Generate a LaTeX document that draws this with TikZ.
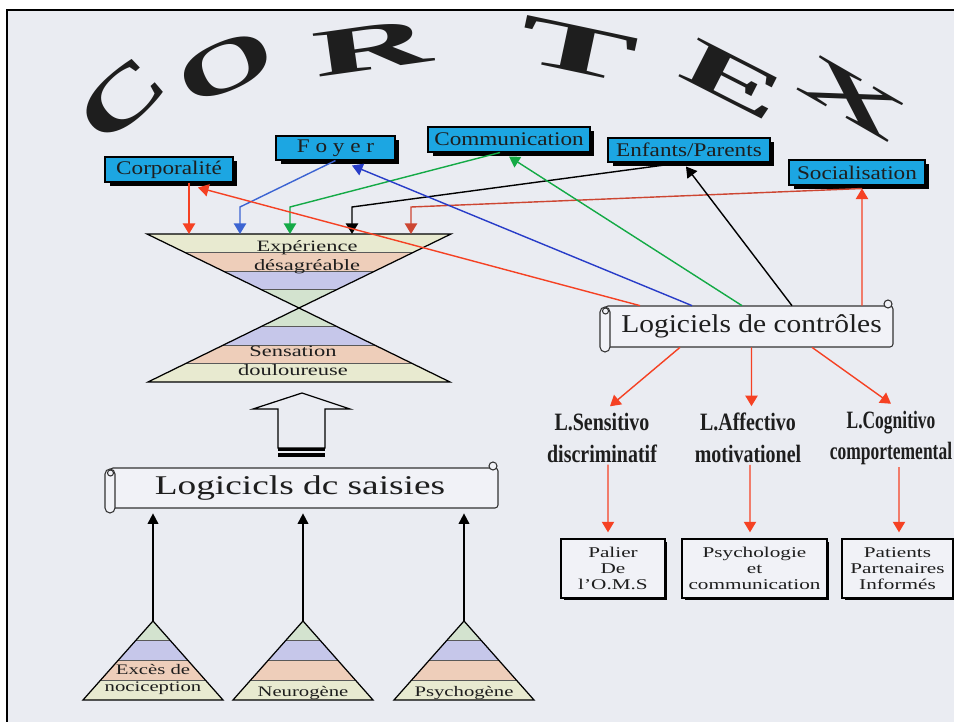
\documentclass[tikz,border=0pt]{standalone}
\usepackage{fontspec}
\usepackage{graphicx}
\setmainfont{Liberation Serif}
\newfontfamily\widefont{Liberation Serif}[FakeStretch=1.42]
\newfontfamily\tagfont{Liberation Serif}[FakeStretch=1.2]
\newfontfamily\scrollfont{Liberation Serif}[FakeStretch=1.15]
\newfontfamily\bigscrollfont{Liberation Serif}[FakeStretch=1.38]
\newfontfamily\levelfont{Liberation Serif}[FakeStretch=0.8]
\newfontfamily\narrowlevelfont{Liberation Serif}[FakeStretch=0.7]
\usetikzlibrary{arrows.meta, positioning, shadows}

\definecolor{paper}{RGB}{234,236,242}
\definecolor{scrollfill}{RGB}{241,242,247}
\definecolor{tagblue}{RGB}{28,166,226}
\definecolor{bandyellow}{RGB}{232,234,208}
\definecolor{bandpink}{RGB}{238,206,186}
\definecolor{bandlav}{RGB}{198,199,234}
\definecolor{bandgreen}{RGB}{211,227,207}
\definecolor{arrowred}{RGB}{245,65,35}
\definecolor{arrowdarkred}{RGB}{205,70,50}
\definecolor{arrowblue}{RGB}{40,60,200}
\definecolor{arrowlightblue}{RGB}{60,100,210}
\definecolor{arrowgreen}{RGB}{20,170,70}
\definecolor{inktext}{RGB}{30,30,30}

\tikzset{
  conn/.style={line width=0.8pt, -{Triangle[width=7pt,length=6pt]}},
  redconn/.style={conn, arrowred},
  darkredconn/.style={conn, arrowdarkred},
  blueconn/.style={conn, arrowblue},
  lightblueconn/.style={conn, arrowlightblue},
  greenconn/.style={conn, arrowgreen},
  blackconn/.style={conn, black},
  riseconn/.style={line width=1pt, black, -{Triangle[width=6pt,length=6pt]}, shorten >=0.1cm},
  bandline/.style={black!65, line width=0.5pt},
  triline/.style={black, line width=0.7pt},
  scrollline/.style={draw=black!80, line width=0.6pt, fill=scrollfill}
}

% layered triangle: apex x, apex y, base y, half base, name of apex
\newcommand{\layeredtriangle}[5]{%
  \coordinate (#5) at (#1,#2);
  \begin{scope}
    \clip (#1,#2) -- ({#1-#4},#3) -- ({#1+#4},#3) -- cycle;
    \foreach \k/\bandcol in {0/bandgreen,1/bandlav,2/bandpink,3/bandyellow}
      \fill[\bandcol] ({#1-#4},{#2+\k*(#3-#2)/4}) rectangle ({#1+#4},{#2+(\k+1)*(#3-#2)/4});
    \foreach \k in {1,2,3}
      \draw[bandline] ({#1-#4},{#2+\k*(#3-#2)/4}) -- ({#1+#4},{#2+\k*(#3-#2)/4});
  \end{scope}
  \draw[triline] (#1,#2) -- ({#1-#4},#3) -- ({#1+#4},#3) -- cycle;
}

% scroll banner: left x, top y, right x, bottom y
\newcommand{\drawscroll}[4]{%
  \filldraw[scrollline, rounded corners=0.06cm] ({#1+5},#2) rectangle (#3,#4);
  \filldraw[scrollline, rounded corners=0.1cm] (#1,{#2+1}) rectangle ({#1+10},{#4+5});
  \draw[scrollline] ({#1+5.5},{#2+5}) circle (0.06cm);
  \filldraw[scrollline] ({#3-5},{#2-2}) circle (0.08cm);
}

\begin{document}
\begin{tikzpicture}[x=0.02cm, y=-0.02cm,
  themebox/.style={draw=black, line width=0.6pt, fill=tagblue, minimum height=0.5cm, inner sep=1pt,
    text=inktext, font=\tagfont\fontsize{11}{13}\selectfont,
    drop shadow={shadow xshift=0.09cm, shadow yshift=-0.09cm, fill=black, opacity=1}},
  notebox/.style={draw=black, line width=0.8pt, fill=scrollfill, minimum height=1.18cm, inner sep=1pt,
    align=center, text=inktext, font=\widefont\fontsize{8.5}{9.1}\selectfont,
    drop shadow={shadow xshift=0.05cm, shadow yshift=-0.05cm, fill=black, opacity=1}},
  leveltext/.style={align=center, inner sep=1pt, text=inktext, font=\levelfont\bfseries\fontsize{14.2}{18}\selectfont},
  glasstext/.style={align=center, inner sep=0pt, text=inktext, font=\widefont\fontsize{9}{10.8}\selectfont},
  tritext/.style={align=center, inner sep=0pt, text=inktext, font=\widefont\fontsize{8.3}{9.6}\selectfont},
  cortexletter/.style={inner sep=0pt, text=inktext, font=\bfseries\fontsize{36}{36}\selectfont}]

  \useasboundingbox (0,0) rectangle (954,722);
  \fill[white] (0,0) rectangle (954,722);
  \fill[paper] (7,10) rectangle (954,722);
  \draw[line width=1.6pt] (7,722) -- (7,10) -- (954,10);

  % title on an arc
  \foreach \ltr/\lx/\ly/\lr/\ls/\lv [count=\i] in {C/122/100/42/2.0/1.2, O/226/67/24/2.0/1.15,
      R/372/48/8/2.6/1.05, T/578/50/-12/2.8/1.1, E/733/80/-27/2.5/1.05, X/852/98/-30/2.4/1.0}
    \node[cortexletter, rotate=\lr] (cortex\i) at (\lx,\ly) {\scalebox{\ls}[\lv]{\ltr}};

  % themes
  \node[themebox, minimum width=2.56cm] (corpo) at (169,169.5) {Corporalité};
  \node[themebox, minimum width=2.38cm, minimum height=0.48cm] (foyer) at (335.5,148) {F o y e r};
  \node[themebox, minimum width=3.24cm] (commu) at (509,139.5) {Communication};
  \node[themebox, minimum width=3.24cm, minimum height=0.48cm] (enfpar) at (689,150) {Enfants/Parents};
  \node[themebox, minimum width=2.72cm] (socia) at (857,172.5) {Socialisation};

  % hourglass
  \layeredtriangle{299}{308}{234}{152}{waist}
  \layeredtriangle{299}{308}{382}{151}{waistlow}
  \node[glasstext] (exper) at (307,257.5) {Expérience\\désagréable};
  \node[glasstext] (sensa) at (293,360.5) {Sensation\\douloureuse};
  \coordinate (in1) at (189,234);
  \coordinate (in2) at (240,234);
  \coordinate (in3) at (290,234);
  \coordinate (in4) at (352,234);
  \coordinate (in5) at (411,234);

  % hollow arrow
  \filldraw[fill=paper, draw=black, line width=0.7pt] (302,393) -- (350,409) -- (325,409) -- (325,448)
    -- (278,448) -- (278,409) -- (253,409) -- cycle;
  \fill[black] (278,448) rectangle (325,451);
  \fill[black] (278,453) rectangle (325,457);

  % scrolls
  \drawscroll{105}{468}{498}{508}
  \node[minimum width=7.76cm, minimum height=0.8cm, text=inktext, font=\bigscrollfont\fontsize{15.4}{18}\selectfont]
    (lds) at (300,488) {Logicicls dc saisies};
  \drawscroll{600}{306}{893}{347}
  \node[minimum width=5.66cm, minimum height=0.82cm, text=inktext, font=\scrollfont\fontsize{14.6}{17}\selectfont]
    (ldc) at (751.5,326.5) {Logiciels de contrôles};

  % sources
  \layeredtriangle{153}{621}{700}{70}{apex1}
  \layeredtriangle{303}{621}{700}{70}{apex2}
  \layeredtriangle{464}{621}{700}{70}{apex3}
  \node[tritext] (exces) at (153,679.5) {Excès de\\nociception};
  \node[tritext] (neuro) at (303,693) {Neurogène};
  \node[tritext] (psycho) at (464,693) {Psychogène};
  \foreach \i in {1,2,3}
    \draw[riseconn] (apex\i) -- (apex\i |- lds.south);

  % levels
  \node[leveltext] (sens) at (602,438) {L.Sensitivo\\discriminatif};
  \node[leveltext] (affe) at (748,438) {L.Affectivo\\motivationel};
  \node[leveltext, font=\narrowlevelfont\bfseries\fontsize{14.2}{18}\selectfont] (cogn) at (891,438) {L.Cognitivo\\comportemental};
  \node[notebox, minimum width=2.08cm] (palier) at (613,568.5) {Palier\\De\\l’O.M.S};
  \node[notebox, minimum width=2.9cm] (psylog) at (754.5,568.5) {Psychologie\\et\\communication};
  \node[notebox, minimum width=2.22cm] (patients) at (897.5,568.5) {Patients\\Partenaires\\Informés};

  % themes into the hourglass
  \draw[redconn] (corpo.south -| in1) -- (in1);
  \draw[lightblueconn] (foyer.south) -- ([yshift=0.54cm]in2) -- (in2);
  \draw[greenconn] ([xshift=-0.18cm]commu.south) -- ([yshift=0.54cm]in3) -- (in3);
  \draw[blackconn] ([xshift=-0.12cm]enfpar.south) -- ([yshift=0.54cm]in4) -- (in4);
  \draw[darkredconn] ([xshift=0.1cm,yshift=-0.06cm]socia.south) -- ([yshift=0.54cm]in5) -- (in5);

  % controls to themes
  \draw[redconn] ([xshift=-2.23cm]ldc.north) -- ([xshift=0.58cm,yshift=-0.1cm]corpo.south);
  \draw[blueconn] ([xshift=-1.19cm]ldc.north) -- ([xshift=0.33cm,yshift=-0.1cm]foyer.south);
  \draw[greenconn] ([xshift=-0.19cm]ldc.north) -- ([yshift=-0.08cm]commu.south);
  \draw[blackconn] ([xshift=0.81cm]ldc.north) -- ([xshift=-0.06cm,yshift=-0.08cm]enfpar.south);
  \draw[redconn] ([xshift=2.21cm]ldc.north) -- ([xshift=0.1cm,yshift=-0.06cm]socia.south);

  % controls to levels
  \draw[redconn] ([xshift=-1.43cm]ldc.south) -- ([xshift=0.16cm,yshift=0.1cm]sens.north);
  \draw[redconn] (ldc.south) -- ([xshift=0.07cm,yshift=0.1cm]affe.north);
  \draw[redconn] ([xshift=1.21cm]ldc.south) -- ([yshift=0.1cm]cogn.north);
  \draw[redconn] ([xshift=0.12cm]sens.south) -- ([xshift=-0.1cm,yshift=0.12cm]palier.north);
  \draw[redconn] ([xshift=0.04cm]affe.south) -- ([xshift=-0.09cm,yshift=0.12cm]psylog.north);
  \draw[redconn] ([xshift=0.16cm]cogn.south) -- ([xshift=0.03cm,yshift=0.12cm]patients.north);
\end{tikzpicture}
\end{document}
